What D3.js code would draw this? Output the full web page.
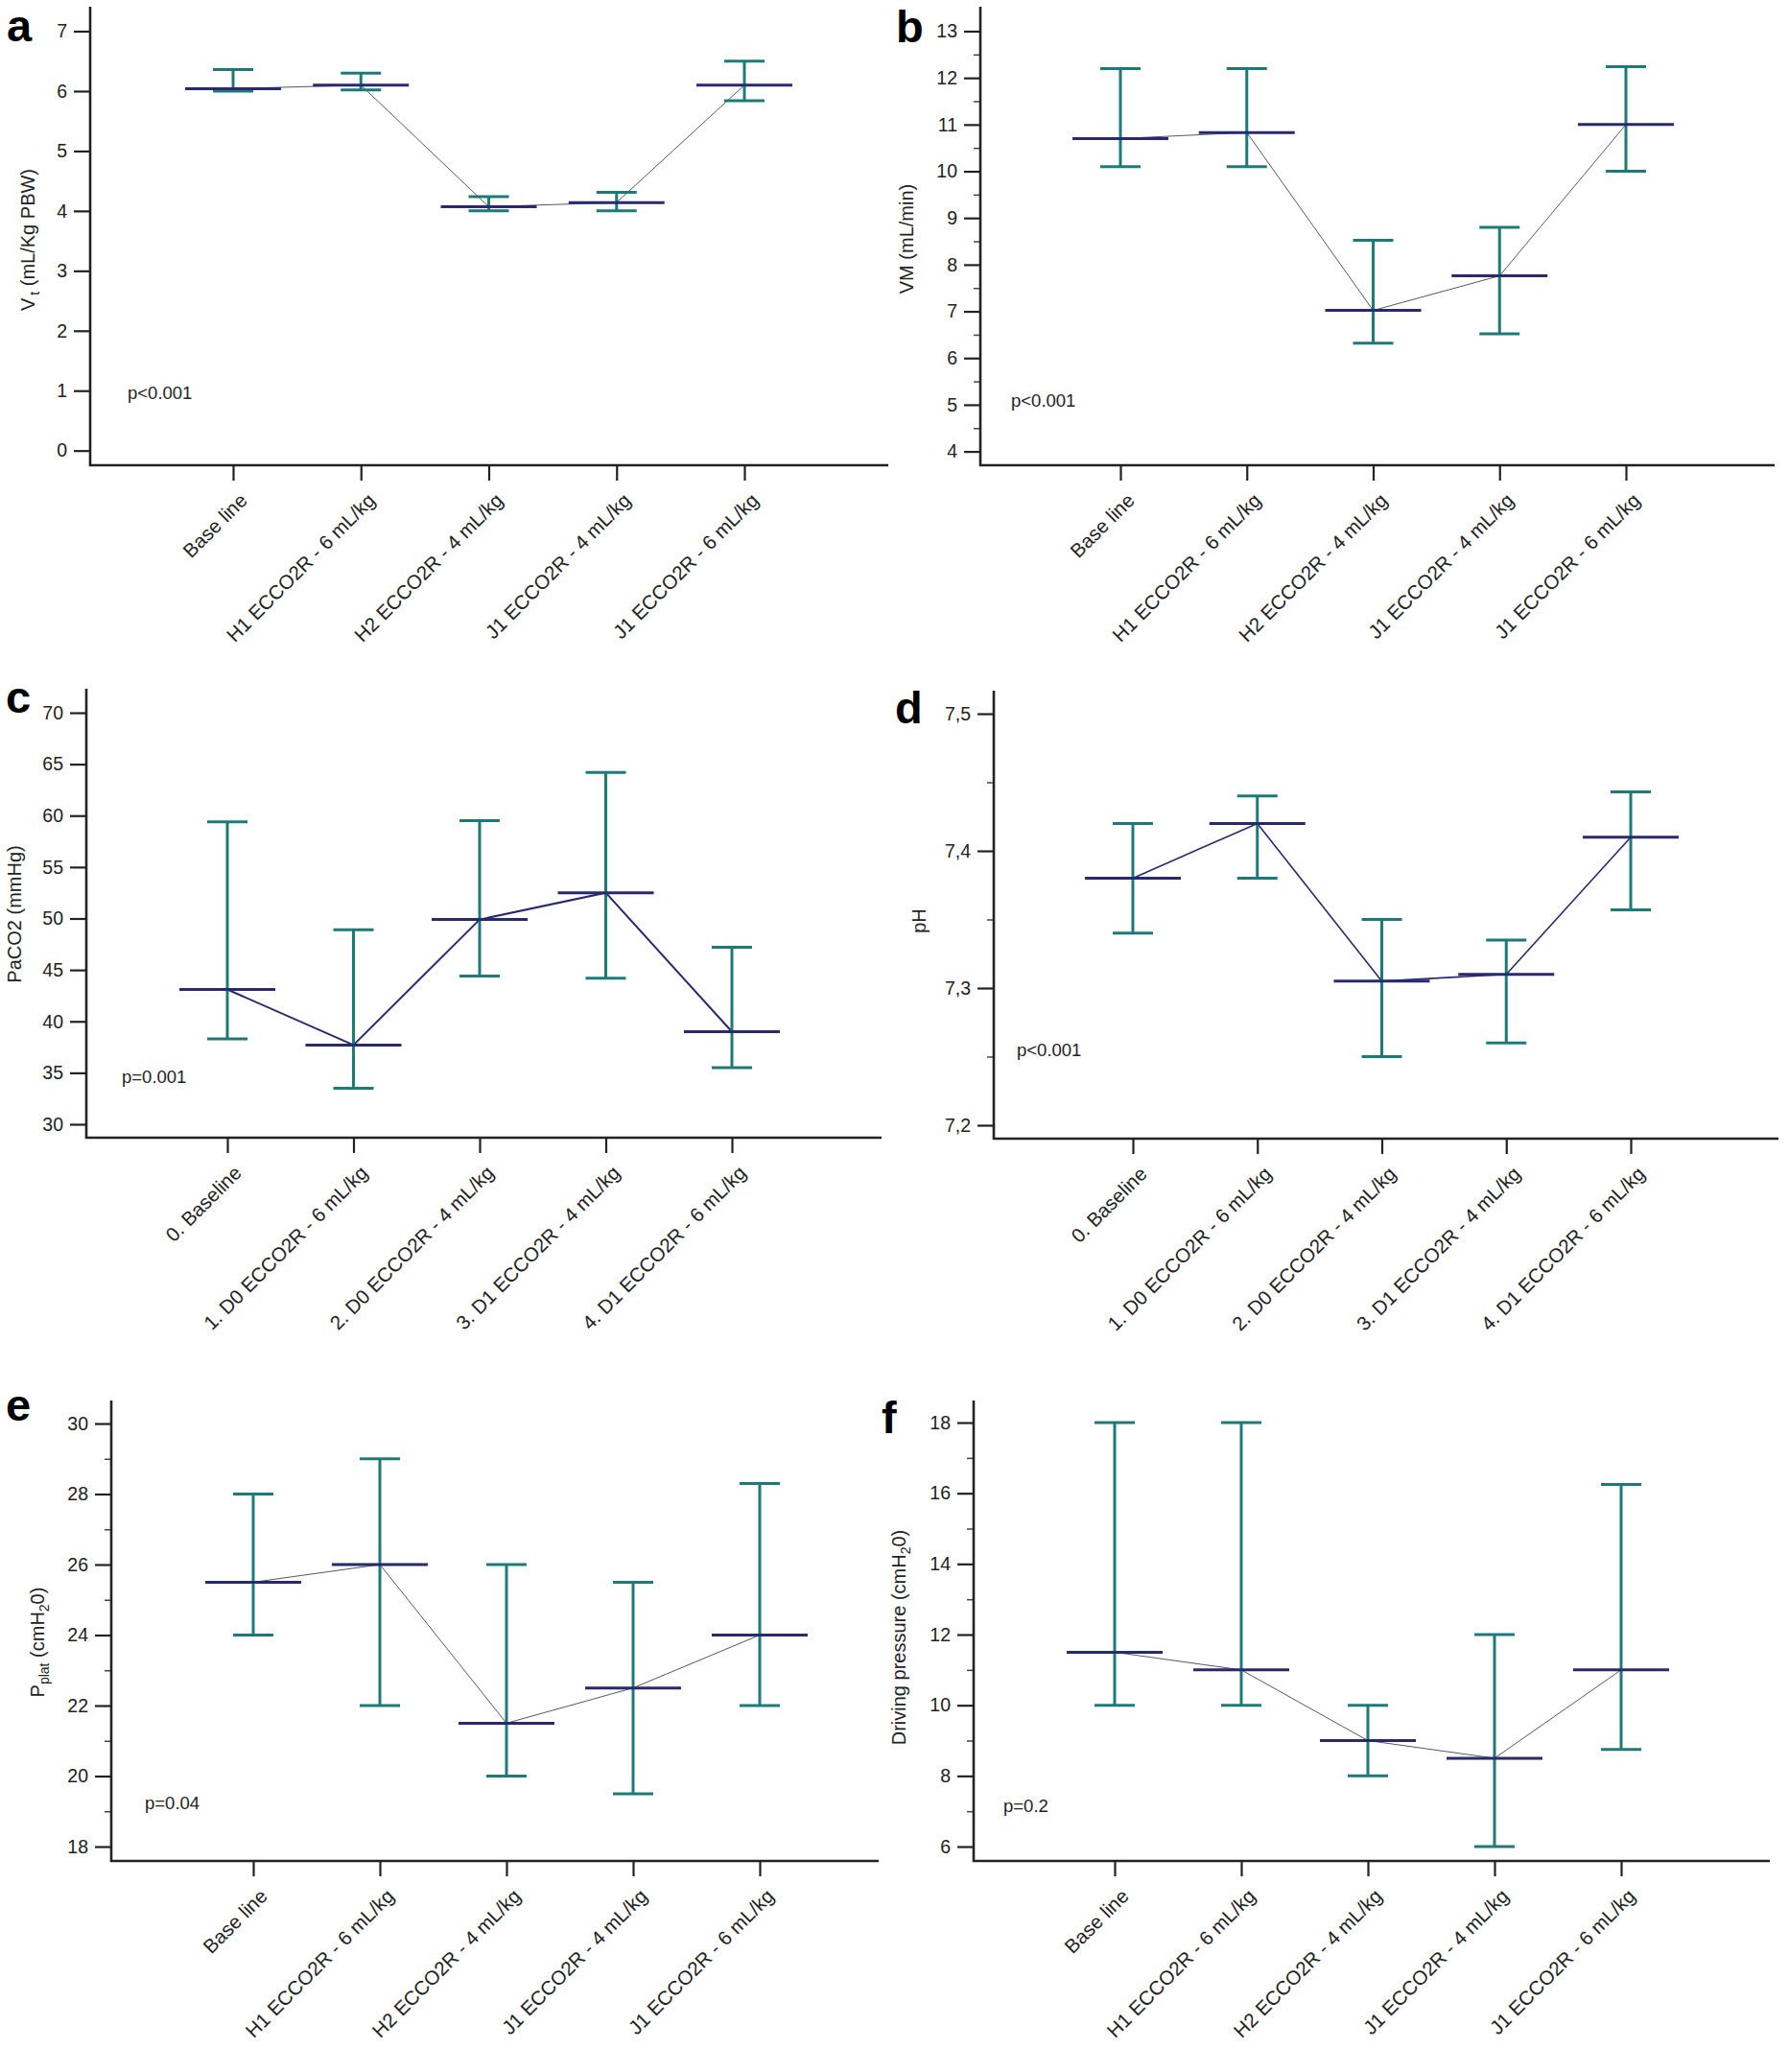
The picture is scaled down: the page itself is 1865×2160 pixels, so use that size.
<!DOCTYPE html>
<html><head><meta charset="utf-8">
<script src="https://cdn.jsdelivr.net/npm/d3@7"></script>
<style>body{margin:0;background:#fff}svg{display:block}</style>
</head><body>
<svg id="chart" width="1865" height="2160"></svg>
<script>
// ---------- data ----------
const catsH = ["Base line", "H1 ECCO2R - 6 mL/kg", "H2 ECCO2R - 4 mL/kg", "J1 ECCO2R - 4 mL/kg", "J1 ECCO2R - 6 mL/kg"];
const catsD = ["0. Baseline", "1. D0 ECCO2R - 6 mL/kg", "2. D0 ECCO2R - 4 mL/kg", "3. D1 ECCO2R - 4 mL/kg", "4. D1 ECCO2R - 6 mL/kg"];

const vtMean = [6.04, 6.1, 4.07, 4.14, 6.1];
const vtLow  = [6.0, 6.02, 4.0, 4.0, 5.84];
const vtHigh = [6.36, 6.3, 4.24, 4.31, 6.5];
const vtTicks = [0, 1, 2, 3, 4, 5, 6, 7];

const vmMean = [10.7, 10.83, 7.02, 7.76, 11.0];
const vmLow  = [10.1, 10.1, 6.32, 6.52, 10.0];
const vmHigh = [12.2, 12.2, 8.52, 8.8, 12.24];
const vmTicks = [4, 5, 6, 7, 8, 9, 10, 11, 12, 13];
const vmMinor = [4.5, 5.5, 6.5, 7.5, 8.5, 9.5, 10.5, 11.5, 12.5];

const pcoMean = [43.1, 37.7, 49.9, 52.5, 39.0];
const pcoLow  = [38.3, 33.5, 44.4, 44.2, 35.5];
const pcoHigh = [59.4, 48.9, 59.5, 64.2, 47.2];
const pcoTicks = [30, 35, 40, 45, 50, 55, 60, 65, 70];

const phMean = [7.38, 7.42, 7.305, 7.31, 7.41];
const phLow  = [7.34, 7.38, 7.25, 7.26, 7.357];
const phHigh = [7.42, 7.44, 7.35, 7.335, 7.443];
const phTicks = [7.2, 7.3, 7.4, 7.5];
const phTickLabels = ["7,2", "7,3", "7,4", "7,5"];
const phMinor = [7.25, 7.35, 7.45];

const ppMean = [25.5, 26.0, 21.5, 22.5, 24.0];
const ppLow  = [24.0, 22.0, 20.0, 19.5, 22.0];
const ppHigh = [28.0, 29.0, 26.0, 25.5, 28.3];
const ppTicks = [18, 20, 22, 24, 26, 28, 30];
const ppMinor = [19, 21, 23, 25, 27, 29];

const dpMean = [11.5, 11.0, 9.0, 8.5, 11.0];
const dpLow  = [10.0, 10.0, 8.0, 6.0, 8.75];
const dpHigh = [18.0, 18.0, 10.0, 12.0, 16.25];
const dpTicks = [6, 8, 10, 12, 14, 16, 18];
const dpMinor = [7, 9, 11, 13, 15, 17];

const pTexts = ["p<0.001", "p<0.001", "p=0.001", "p<0.001", "p=0.04", "p=0.2"];
const letters = ["a", "b", "c", "d", "e", "f"];

// ---------- layout ----------
const TEAL = "#1c7b79", NAVY = "#29296f";
const FONT = "'Liberation Sans', Arial, sans-serif";
const svg = d3.select("#chart");

const panels = [
  {letter: letters[0], cats: catsH, mean: vtMean, low: vtLow, high: vtHigh, ticks: vtTicks, minor: [], fmt: d => d,
   x0: 94, xEnd: 926, c0: 243, c1: 776, axisY: 485, yTopAxis: 7, dom: [0, 7], px: [469.7, 32.5],
   lw: 1, lc: "#55556a", p: pTexts[0], pPos: [133, 416], lPos: [7, 43], yl: "vt", ylPos: [36, 250]},
  {letter: letters[1], cats: catsH, mean: vmMean, low: vmLow, high: vmHigh, ticks: vmTicks, minor: vmMinor, fmt: d => d,
   x0: 1022, xEnd: 1850, c0: 1168, c1: 1695, axisY: 485, yTopAxis: 7, dom: [4, 13], px: [470.6, 32.5],
   lw: 1, lc: "#55556a", p: pTexts[1], pPos: [1054, 424], lPos: [934, 44], yl: "VM  (mL/min)", ylPos: [952, 249]},
  {letter: letters[2], cats: catsD, mean: pcoMean, low: pcoLow, high: pcoHigh, ticks: pcoTicks, minor: [], fmt: d => d,
   x0: 90, xEnd: 919, c0: 237, c1: 763, axisY: 1186, yTopAxis: 718, dom: [30, 70], px: [1172, 743],
   lw: 2, lc: NAVY, p: pTexts[2], pPos: [127, 1129], lPos: [6, 743], yl: "PaCO2 (mmHg)", ylPos: [22, 953]},
  {letter: letters[3], cats: catsD, mean: phMean, low: phLow, high: phHigh, ticks: phTicks, minor: phMinor, fmt: (d, i) => phTickLabels[i],
   x0: 1036, xEnd: 1854, c0: 1181, c1: 1700, axisY: 1187, yTopAxis: 720, dom: [7.2, 7.5], px: [1173, 744],
   lw: 1.6, lc: NAVY, p: pTexts[3], pPos: [1060, 1101], lPos: [933, 754], yl: "pH", ylPos: [965, 960]},
  {letter: letters[4], cats: catsH, mean: ppMean, low: ppLow, high: ppHigh, ticks: ppTicks, minor: ppMinor, fmt: d => d,
   x0: 116, xEnd: 916, c0: 264, c1: 792, axisY: 1940, yTopAxis: 1460, dom: [18, 30], px: [1925, 1484],
   lw: 1, lc: "#55556a", p: pTexts[4], pPos: [151, 1886], lPos: [6, 1481], yl: "pplat", ylPos: [46, 1712]},
  {letter: letters[5], cats: catsH, mean: dpMean, low: dpLow, high: dpHigh, ticks: dpTicks, minor: dpMinor, fmt: d => d,
   x0: 1015, xEnd: 1845, c0: 1162, c1: 1690, axisY: 1940, yTopAxis: 1460, dom: [6, 18], px: [1925, 1483],
   lw: 1, lc: "#55556a", p: pTexts[5], pPos: [1046, 1889], lPos: [919, 1494], yl: "dp", ylPos: [944, 1707]}
];

panels.forEach(P => {
  const g = svg.append("g");
  const x = d3.scalePoint().domain(P.cats).range([P.c0, P.c1]);
  const y = d3.scaleLinear().domain(P.dom).range(P.px);

  // y axis major
  const ya = g.append("g").attr("transform", `translate(${P.x0},0)`)
    .call(d3.axisLeft(y).tickValues(P.ticks).tickSize(17).tickPadding(7).tickFormat(P.fmt));
  ya.select(".domain").remove();
  ya.selectAll(".tick line").attr("stroke", "#222").attr("stroke-width", 2.2);
  ya.selectAll(".tick text").attr("font-family", FONT).attr("font-size", 19.5).attr("fill", "#222");
  if (P.minor.length) {
    const ym = g.append("g").attr("transform", `translate(${P.x0},0)`)
      .call(d3.axisLeft(y).tickValues(P.minor).tickSize(7).tickFormat(""));
    ym.select(".domain").remove();
    ym.selectAll(".tick line").attr("stroke", "#444").attr("stroke-width", 1.5);
  }
  // x axis ticks
  const xa = g.append("g").attr("transform", `translate(0,${P.axisY})`)
    .call(d3.axisBottom(x).tickSize(16).tickFormat(""));
  xa.select(".domain").remove();
  xa.selectAll(".tick line").attr("stroke", "#222").attr("stroke-width", 2.2);
  // axis lines
  g.append("line").attr("x1", P.x0).attr("x2", P.x0).attr("y1", P.yTopAxis).attr("y2", P.axisY + 1)
    .attr("stroke", "#222").attr("stroke-width", 2.6);
  g.append("line").attr("x1", P.x0 - 1).attr("x2", P.xEnd).attr("y1", P.axisY).attr("y2", P.axisY)
    .attr("stroke", "#222").attr("stroke-width", 2.6);
  // x labels
  g.selectAll("text.xl").data(P.cats).join("text").attr("class", "xl")
    .attr("transform", d => `translate(${x(d) + 16},${P.axisY + 38}) rotate(-45)`)
    .attr("text-anchor", "end").attr("font-family", FONT).attr("font-size", 20.5).attr("fill", "#222")
    .text(d => d);

  // connecting line
  const idx = d3.range(P.cats.length);
  g.append("path").datum(idx)
    .attr("d", d3.line().x(i => x(P.cats[i])).y(i => y(P.mean[i])))
    .attr("fill", "none").attr("stroke", P.lc).attr("stroke-width", P.lw);
  // error bars
  const eb = g.selectAll("g.eb").data(idx).join("g").attr("class", "eb");
  eb.append("line").attr("x1", i => x(P.cats[i])).attr("x2", i => x(P.cats[i]))
    .attr("y1", i => y(P.low[i])).attr("y2", i => y(P.high[i])).attr("stroke", TEAL).attr("stroke-width", 3);
  [P.low, P.high].forEach(arr => {
    eb.append("line").attr("x1", i => x(P.cats[i]) - 21).attr("x2", i => x(P.cats[i]) + 21)
      .attr("y1", i => y(arr[i])).attr("y2", i => y(arr[i])).attr("stroke", TEAL).attr("stroke-width", 3);
  });
  // mean bars
  eb.append("line").attr("x1", i => x(P.cats[i]) - 50).attr("x2", i => x(P.cats[i]) + 50)
    .attr("y1", i => y(P.mean[i])).attr("y2", i => y(P.mean[i])).attr("stroke", NAVY).attr("stroke-width", 3);

  // p text
  g.append("text").attr("x", P.pPos[0]).attr("y", P.pPos[1]).attr("font-family", FONT)
    .attr("font-size", 18.5).attr("fill", "#222").text(P.p);
  // panel letter
  g.append("text").attr("x", P.lPos[0]).attr("y", P.lPos[1]).attr("font-family", FONT)
    .attr("font-weight", "bold").attr("font-size", 47).attr("fill", "#000").text(P.letter);
  // y label
  const yl = g.append("text").attr("transform", `translate(${P.ylPos[0]},${P.ylPos[1]}) rotate(-90)`)
    .attr("text-anchor", "middle").attr("font-family", FONT).attr("font-size", 20).attr("fill", "#222");
  if (P.yl === "vt") {
    yl.append("tspan").text("V");
    yl.append("tspan").attr("font-size", 14).attr("dy", 5).attr("dx", 3).text("t");
    yl.append("tspan").attr("dy", -5).text(" (mL/Kg PBW)");
  } else if (P.yl === "pplat") {
    yl.append("tspan").text("P");
    yl.append("tspan").attr("font-size", 14).attr("dy", 5).text("plat");
    yl.append("tspan").attr("dy", -5).text(" (cmH");
    yl.append("tspan").attr("font-size", 14).attr("dy", 5).text("2");
    yl.append("tspan").attr("dy", -5).text("0)");
  } else if (P.yl === "dp") {
    yl.append("tspan").text("Driving pressure (cmH");
    yl.append("tspan").attr("font-size", 14).attr("dy", 5).text("2");
    yl.append("tspan").attr("dy", -5).text("0)");
  } else {
    yl.text(P.yl);
  }
});
</script>
</body></html>
